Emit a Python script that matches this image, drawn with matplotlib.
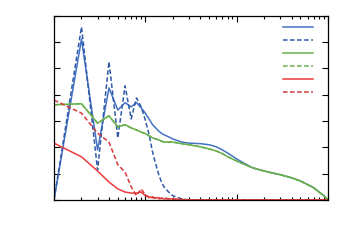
import matplotlib
matplotlib.use('Agg')
import matplotlib.pyplot as plt
from matplotlib.ticker import LogLocator, NullFormatter, MultipleLocator

# x positions (log axis)
x_lo = [1, 2, 3, 4, 5, 6, 7, 8, 9, 10, 11, 12, 13, 14, 15, 16, 18, 20, 25, 30,
        40, 50, 60, 70, 80, 100, 120, 150, 200, 250, 300, 400, 500, 600, 700, 800, 900, 1000]

blue_solid = [0, 0.306, 0.095, 0.213, 0.171, 0.185, 0.177, 0.185, 0.175, 0.165, 0.154, 0.143,
              0.137, 0.131, 0.127, 0.124, 0.120, 0.116, 0.110, 0.108, 0.107, 0.105, 0.101,
              0.095, 0.089, 0.078, 0.070, 0.061, 0.055, 0.051, 0.048, 0.042, 0.036, 0.029,
              0.023, 0.015, 0.008, 0]
blue_dash = [0, 0.329, 0.057, 0.263, 0.118, 0.217, 0.154, 0.194, 0.177, 0.152, 0.124, 0.091,
             0.068, 0.049, 0.034, 0.025, 0.015, 0.008, 0.002, 0, 0, 0, 0, 0, 0, 0, 0, 0, 0,
             0, 0, 0, 0, 0, 0, 0, 0, 0]
green_solid = [0.181, 0.183, 0.146, 0.160, 0.139, 0.143, 0.137, 0.133, 0.129, 0.126, 0.122,
               0.118, 0.116, 0.114, 0.112, 0.110, 0.110, 0.110, 0.107, 0.105, 0.101, 0.097,
               0.093, 0.088, 0.082, 0.074, 0.068, 0.061, 0.055, 0.051, 0.048, 0.042, 0.036,
               0.029, 0.023, 0.015, 0.008, 0]
green_dash = list(green_solid)
red_solid = [0.108, 0.082, 0.055, 0.034, 0.021, 0.015, 0.013, 0.013, 0.015, 0.008, 0.006,
             0.004, 0.004, 0.004, 0.003, 0.002, 0.002, 0.002, 0.001, 0, 0, 0, 0, 0, 0, 0,
             0, 0, 0, 0, 0, 0, 0, 0, 0, 0, 0, 0]
red_dash = [0.190, 0.165, 0.127, 0.110, 0.067, 0.053, 0.025, 0.008, 0.021, 0.010, 0.004,
            0.006, 0.003, 0.002, 0.003, 0.004, 0.002, 0.001, 0, 0, 0, 0, 0, 0, 0, 0, 0, 0,
            0, 0, 0, 0, 0, 0, 0, 0, 0, 0]

BLUE = '#4472c4'
BLUE_D = '#2f5aa8'
GREEN = '#6ab04c'
RED = '#ee3b3b'
dash = (0, (3, 1.6))

fig = plt.figure(figsize=(3.6, 2.45), dpi=100)
ax = fig.add_axes([0.15, 0.184, 0.761, 0.751])

lines = []
lines += ax.plot(x_lo, blue_solid, color=BLUE, lw=1.1)
lines += ax.plot(x_lo, blue_dash, color=BLUE_D, lw=1.1, ls=dash)
lines += ax.plot(x_lo, green_solid, color=GREEN, lw=1.1)
lines += ax.plot(x_lo, green_dash, color=GREEN, lw=1.1, ls=dash)
lines += ax.plot(x_lo, red_solid, color=RED, lw=1.1)
lines += ax.plot(x_lo, red_dash, color='#d93a3a', lw=1.1, ls=dash)

ax.set_xscale('log')
ax.set_xlim(1, 1000)
ax.set_ylim(0, 0.35)
ax.yaxis.set_major_locator(MultipleLocator(0.05))
ax.xaxis.set_major_locator(LogLocator(base=10))
ax.xaxis.set_minor_locator(LogLocator(base=10, subs=range(2, 10)))
ax.xaxis.set_major_formatter(NullFormatter())
ax.xaxis.set_minor_formatter(NullFormatter())
ax.yaxis.set_major_formatter(NullFormatter())
ax.tick_params(which='both', direction='in', top=True, right=True, width=0.8)
ax.tick_params(which='major', length=4)
ax.tick_params(which='minor', length=2)
for s in ax.spines.values():
    s.set_linewidth(0.9)

ax.legend(lines, [''] * 6, loc='upper right', frameon=False, fontsize=7,
          handlelength=3.1, labelspacing=0.3, bbox_to_anchor=(1.006, 1.01))

fig.savefig('out.png', dpi=100)
